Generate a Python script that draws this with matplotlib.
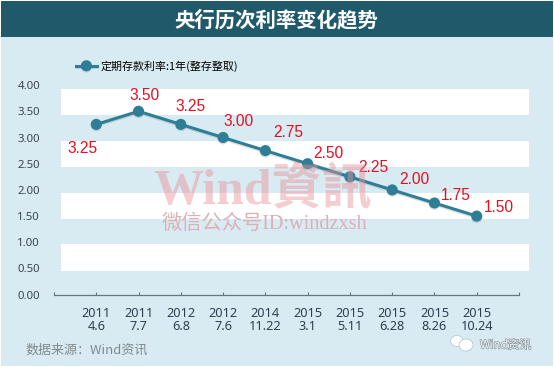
import matplotlib
matplotlib.use('Agg')
import matplotlib.pyplot as plt
import matplotlib.patheffects as pe
from matplotlib.patches import Ellipse, Rectangle

W, H = 554, 368
CJK = ['Noto Sans CJK SC', 'DejaVu Sans']

dates = ['2011\n4.6', '2011\n7.7', '2012\n6.8', '2012\n7.6', '2014\n11.22', '2015\n3.1',
         '2015\n5.11', '2015\n6.28', '2015\n8.26', '2015\n10.24']
rates = [3.25, 3.50, 3.25, 3.00, 2.75, 2.50, 2.25, 2.00, 1.75, 1.50]
yticks = [0, 0.5, 1, 1.5, 2, 2.5, 3, 3.5, 4]

# label offsets from the points, in pixels
offsets = [(-14, -24), (6, 16), (10, 18), (15, 16), (23, 18), (21, 10), (23, 9), (22, 10), (21, 8), (22, 9)]
# the white stripes sit a bit below the grid in the original
stripes = [(3.435, 3.93), (2.44, 2.94), (1.45, 1.95), (0.46, 0.96)]


def fx(x):
    return x / W


def fy(y):
    return 1 - y / H


def main():
    plt.rcParams['font.family'] = CJK
    fig = plt.figure(figsize=(W / 100, H / 100), dpi=100, facecolor='white')

    fig.patches.append(Rectangle((fx(1), fy(366)), fx(552), 365 / H, transform=fig.transFigure,
                                 facecolor='#d9ebf2', edgecolor='none', zorder=-5))
    fig.patches.append(Rectangle((fx(1), fy(37)), fx(552), 36 / H, transform=fig.transFigure,
                                 facecolor='#205a6a', edgecolor='none', zorder=-4))
    fig.text(fx(276), fy(20), '央行历次利率变化趋势', color='white', fontsize=14.7, fontweight='bold',
             ha='center', va='center')

    ax = fig.add_axes([fx(54), fy(294.7), fx(465), 209.6 / H])
    ax.patch.set_alpha(0)
    ax.set_xlim(-1, 10)
    ax.set_ylim(0, 4)

    for lo, hi in stripes:
        ax.axhspan(lo, hi, xmin=7 / 465, xmax=475 / 465, facecolor='white', edgecolor='none',
                   clip_on=False, zorder=0)

    fig.text(fx(263), fy(191), 'Wind資訊', color='#e98f95', alpha=0.45, fontsize=36, fontweight='bold',
             family=['Liberation Serif', 'Noto Sans CJK TC'], ha='center', va='center', zorder=1)
    fig.text(fx(264), fy(224), '微信公众号ID:windzxsh', color='#dcb0b6', fontsize=14.6,
             family=['Liberation Serif', 'Noto Sans CJK SC'], ha='center', va='center', zorder=1)

    line, = ax.plot(range(len(rates)), rates, color='#2e7f96', lw=2.2, marker='o', ms=7.0,
                    label='定期存款利率:1年(整存整取)', zorder=3, clip_on=False)
    line.set_path_effects([pe.SimpleLineShadow(offset=(0, -1), shadow_color='#667', alpha=0.2), pe.Normal()])

    for i, r in enumerate(rates):
        ax.annotate(f'{r:.2f}', (i, r), xytext=(offsets[i][0] * 0.72, offsets[i][1] * 0.72),
                    textcoords='offset points', color='#e60f20', fontsize=11.2,
                    family='Liberation Sans', ha='center', va='center', zorder=4)

    for s in ['top', 'left', 'right']:
        ax.spines[s].set_visible(False)
    ax.spines['bottom'].set_color('#64777f')
    ax.spines['bottom'].set_linewidth(0.9)

    ax.set_xticks(list(range(len(dates))), dates)
    ax.set_xticks([-1, 10], minor=True)
    ax.tick_params(axis='x', which='both', direction='in', length=2.5, width=0.8, color='#64777f',
                   labelsize=9.2, labelcolor='#2f3f50', pad=9)
    ax.set_yticks(yticks, [f'{v:.2f}' for v in yticks])
    ax.tick_params(axis='y', length=0, labelsize=8.2, labelcolor='#3a4650', pad=10)
    for lab in ax.get_xticklabels() + ax.get_yticklabels():
        lab.set_family('Noto Sans')
    for lab in ax.get_xticklabels():
        lab.set_linespacing(0.95)

    ax.legend(loc='center left', bbox_to_anchor=(fx(76), fy(66)), bbox_transform=fig.transFigure,
              frameon=False, fontsize=7.9, handlelength=1.9, handletextpad=0.35, borderpad=0, borderaxespad=0)

    fig.text(fx(26), fy(350), '数据来源：Wind资讯', color='#808a8e', fontsize=9.4, style='italic',
             ha='left', va='center')

    # WeChat style logo, bottom right
    for (cx, cy, w, h) in [(457, 341, 13, 11), (466, 345, 14, 12)]:
        fig.patches.append(Ellipse((fx(cx), fy(cy)), fx(w), h / H, transform=fig.transFigure,
                                   facecolor='white', edgecolor='#b5c0c5', linewidth=0.5, zorder=5))
    fig.text(fx(480), fy(345), 'Wind资讯', color='#f4fafc', fontsize=8.4, ha='left', va='center',
             path_effects=[pe.withStroke(linewidth=1, foreground='#8a969c')], zorder=5)

    fig.savefig('out.png', dpi=100, facecolor=fig.get_facecolor())


if __name__ == '__main__':
    main()
